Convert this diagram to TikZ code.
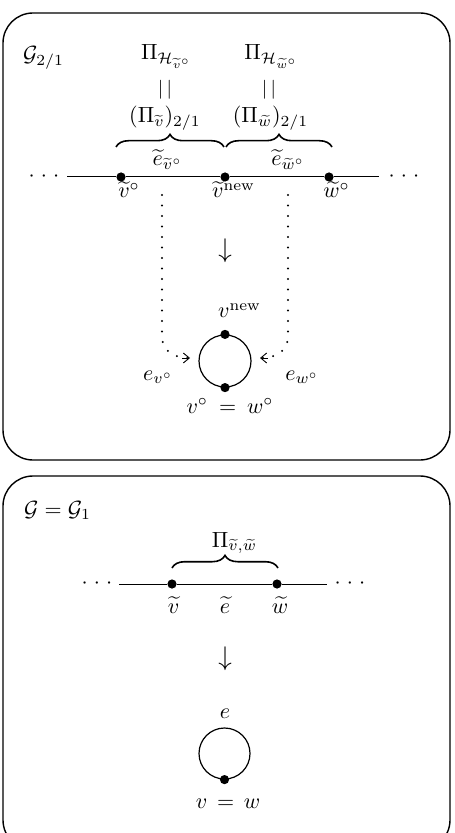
\RequirePackage{fix-cm}
\documentclass[tikz,border=0pt]{standalone}
\usepackage{amsmath}
\usepackage{exscale}
\usetikzlibrary{decorations.pathreplacing,arrows.meta}
\begin{document}
\begin{tikzpicture}[x=0.5pt,y=-0.5pt,
  font=\fontsize{11}{13}\selectfont,
  lbl/.style={inner sep=0pt, anchor=base},
  frame/.style={draw, line width=0.7pt, rounded corners=15pt},
  edgeline/.style={line width=0.5pt},
  vtx/.style={circle, fill, inner sep=0pt, minimum size=4.6pt},
  brc/.style={decorate, decoration={brace, amplitude=6.3pt}, line width=0.8pt},
  dotline/.style={line width=1.1pt, line cap=round, dash pattern=on 0pt off 5.25pt},
  tipbarb/.style={-{Straight Barb[length=3pt,width=5pt,line width=0.45pt]}},
  loopc/.style={circle, draw, line width=0.6pt, inner sep=0pt},
  downarr/.style={inner sep=0pt, font=\fontsize{13.5}{15}\selectfont},
  dotsnode/.style={inner sep=0pt},
  ]
\useasboundingbox (0,0) rectangle (454,833);
\clip (0,0) rectangle (454,833);

% ---------- top frame ----------
\draw[frame] (3,13) rectangle (450,460);
\node[lbl] (g21) at (43.5,62) {$\mathcal{G}_{2/1}$};

\node[lbl] (piH1) at (166.5,60) {$\Pi_{\mathcal{H}_{\widetilde{v}^\circ}}$};
\node[lbl] (piH2) at (271.5,60) {$\Pi_{\mathcal{H}_{\widetilde{w}^\circ}}$};
\node[inner sep=0pt, font=\fontsize{9.5}{11}\selectfont] (eq1) at (165,90) {$|\mkern3mu|$};
\node[inner sep=0pt, font=\fontsize{9.5}{11}\selectfont] (eq2) at (269,90) {$|\mkern3mu|$};
\node[lbl] (pv) at (165,123) {$(\Pi_{\widetilde{v}})_{2/1}$};
\node[lbl] (pw) at (270.5,123) {$(\Pi_{\widetilde{w}})_{2/1}$};

\coordinate (b1s) at (116,147);
\coordinate (b1e) at (224,147);
\coordinate (b2s) at (226,147);
\coordinate (b2e) at (332,147);
\draw[brc] (b1s) -- (b1e);
\draw[brc] (b2s) -- (b2e);
\node[lbl] (ev) at (167.5,166) {$\widetilde{e}_{\widetilde{v}^\circ}$};
\node[lbl] (ew) at (288,166) {$\widetilde{e}_{\widetilde{w}^\circ}$};

\coordinate (tl) at (67,177);
\coordinate (tr) at (379,177);
\node[vtx] (v1) at (121,177) {};
\node[vtx] (vn) at (225,177) {};
\node[vtx] (w1) at (329,177) {};
\draw[edgeline] (tl) -- (v1) -- (vn) -- (w1) -- (tr);
\node[dotsnode] (ldots1) at (44,177) {$\cdotp\mkern2mu\cdotp\mkern2mu\cdotp$};
\node[dotsnode] (rdots1) at (404,177) {$\cdotp\mkern2mu\cdotp\mkern2mu\cdotp$};

\node[lbl] (lv1) at (129,198) {$\widetilde{v}^\circ$};
\node[lbl] (lvn) at (233.5,198) {$\widetilde{v}^{\mathrm{new}}$};
\node[lbl] (lw1) at (336.5,198) {$\widetilde{w}^\circ$};

\node[downarr] (arr1) at (225,251) {$\downarrow$};

\node[lbl] (lnew) at (239.5,318) {$v^{\mathrm{new}}$};
\node[loopc, minimum size=26pt] (c1) at (225,361) {};
\node[vtx] (c1t) at (c1.north) {};
\node[vtx] (c1b) at (c1.south) {};

\coordinate (d1s) at (162,195);
\coordinate (d1m) at (162,336);
\coordinate (d1e) at (190,358);
\coordinate (d2s) at (288,195);
\coordinate (d2m) at (288,336);
\coordinate (d2e) at (260,358);
\draw[dotline] (d1s) -- (d1m) .. controls (162,350) and (172,358) .. (d1e);
\draw[dotline] (d2s) -- (d2m) .. controls (288,350) and (278,358) .. (d2e);
\draw[tipbarb] (182,358) -- (d1e);
\draw[tipbarb] (268,358) -- (d2e);

\node[lbl] (lev) at (158,380) {$e_{v^\circ}$};
\node[lbl] (lew) at (302,380) {$e_{w^\circ}$};
\node[lbl] (lvw) at (230,413) {$v^\circ\mkern4mu=\mkern4mu w^\circ$};

% ---------- bottom frame ----------
\draw[frame] (3,476) rectangle (450,850);
\node[lbl] (g1) at (57.5,516) {$\mathcal{G}=\mathcal{G}_1$};
\node[lbl] (pvw) at (234.5,547) {$\Pi_{\widetilde{v},\widetilde{w}}$};
\coordinate (b3s) at (172,568);
\coordinate (b3e) at (278,568);
\draw[brc] (b3s) -- (b3e);

\coordinate (bl) at (119,584);
\coordinate (br) at (327,584);
\node[vtx] (v2) at (172,584) {};
\node[vtx] (w2) at (277,584) {};
\draw[edgeline] (bl) -- (v2) -- (w2) -- (br);
\node[dotsnode] (ldots2) at (97,584) {$\cdotp\mkern2mu\cdotp\mkern2mu\cdotp$};
\node[dotsnode] (rdots2) at (350,584) {$\cdotp\mkern2mu\cdotp\mkern2mu\cdotp$};

\node[lbl] (lv2) at (173.5,613) {$\widetilde{v}$};
\node[lbl] (le2) at (225,613) {$\widetilde{e}$};
\node[lbl] (lw2) at (280,613) {$\widetilde{w}$};

\node[downarr] (arr2) at (225,658.5) {$\downarrow$};

\node[lbl] (le) at (225,718) {$e$};
\node[loopc, minimum size=25.5pt] (c2) at (224.5,753.5) {};
\node[vtx] (c2b) at (c2.south) {};
\node[lbl] (lvw2) at (228,808) {$v\mkern3mu=\mkern3mu w$};
\end{tikzpicture}
\end{document}
